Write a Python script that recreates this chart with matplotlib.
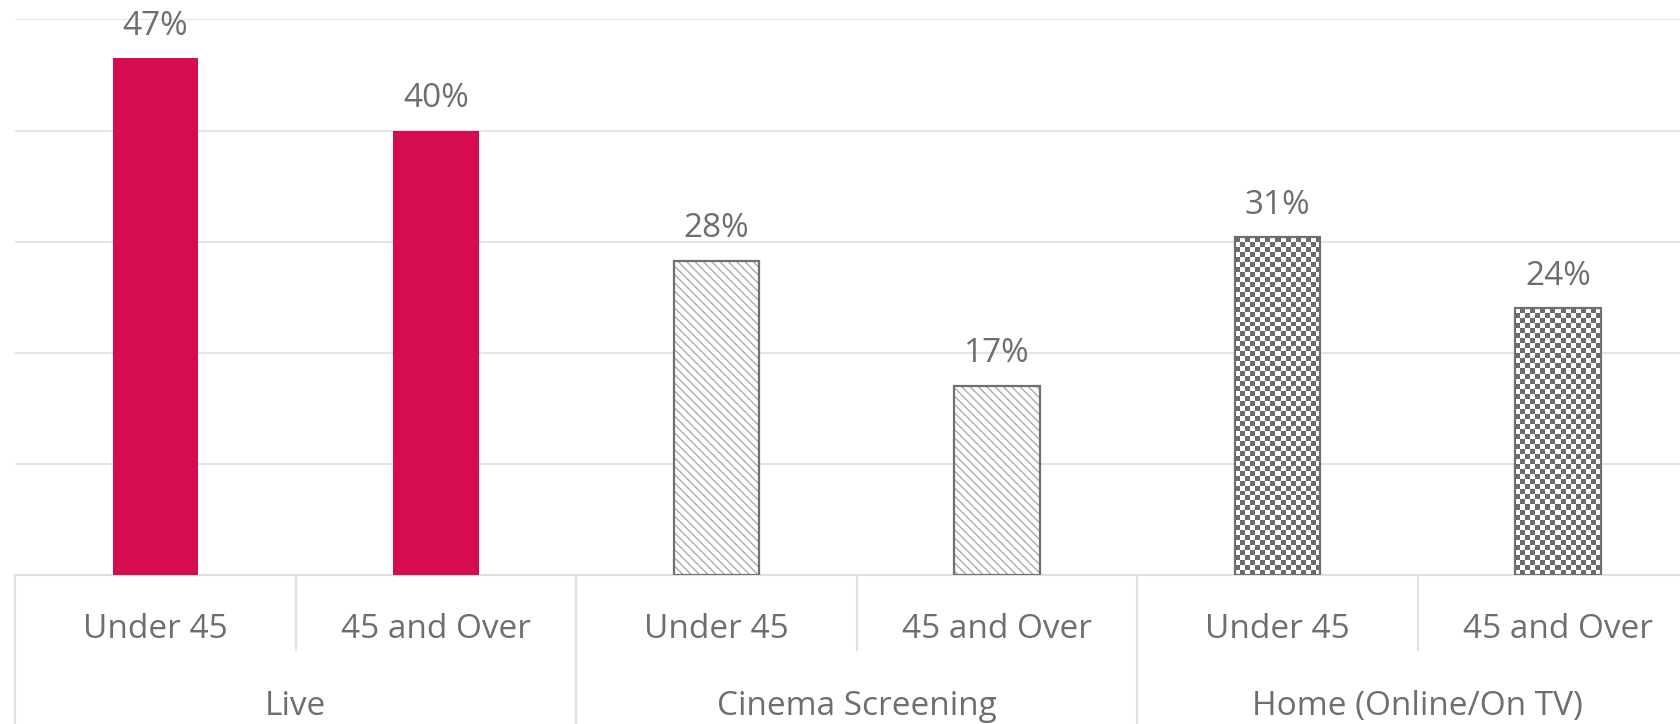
import numpy as np
import matplotlib
matplotlib.use('Agg')
import matplotlib.pyplot as plt
from matplotlib.colors import ListedColormap

plt.rcParams['font.family'] = ['Open Sans', 'DejaVu Sans']
plt.rcParams['hatch.linewidth'] = 1.0

groups = ['Live', 'Cinema Screening', 'Home (Online/On TV)']
ages = ['Under 45', '45 and Over']
values = [46.5, 40, 28.3, 17, 30.4, 24]
value_labels = ['47%', '40%', '28%', '17%', '31%', '24%']
styles = ['solid', 'solid', 'hatch', 'hatch', 'checker', 'checker']

pink = '#D60C51'
edge = '#707070'
grid_col = '#e0e0e0'
text_col = '#6e6e6e'

fig = plt.figure(figsize=(16.8, 7.24), dpi=100)
# axes runs a little past the right edge, like the source image
ax = fig.add_axes([15.15 / 1680, 149 / 724, 1683 / 1680, 555.6 / 724])

x = np.arange(len(values))
w = 0.305

for xi, v, st in zip(x, values, styles):
    if st == 'solid':
        ax.bar(xi, v, w, color=pink, zorder=3)
    elif st == 'hatch':
        ax.bar(xi, v, w, facecolor='white', edgecolor='#ababab', hatch='\\\\\\\\', linewidth=0, zorder=3)
        ax.bar(xi, v, w, fill=False, edgecolor=edge, linewidth=1.6, zorder=4)
    else:
        ax.bar(xi, v, w, facecolor='white', linewidth=0, zorder=3)
        ax.bar(xi, v, w, fill=False, edgecolor=edge, linewidth=1.6, zorder=5)

ax.set_xlim(-0.5, 5.5)
ax.set_ylim(0, 50)

# checkerboard fill, 5 px cells
px_x = ax.transData.transform((1, 0))[0] - ax.transData.transform((0, 0))[0]
px_y = ax.transData.transform((0, 1))[1] - ax.transData.transform((0, 0))[1]
checker_cmap = ListedColormap(['white', '#6b6b6b'])
for xi, v, st in zip(x, values, styles):
    if st != 'checker':
        continue
    nx = int(round(w * px_x / 5))
    ny = int(round(v * px_y / 5))
    board = (np.add.outer(np.arange(ny), np.arange(nx)) % 2)
    ax.imshow(board, cmap=checker_cmap, extent=(xi - w / 2, xi + w / 2, 0, v),
              aspect='auto', interpolation='nearest', zorder=4, origin='lower')
ax.set_xlim(-0.5, 5.5)
ax.set_ylim(0, 50)

for xi, v, lab in zip(x, values, value_labels):
    ax.annotate(lab, (xi, v), xytext=(0, 17), textcoords='offset points',
                ha='center', va='baseline', fontsize=24, color=text_col)

ax.set_yticks([0, 10, 20, 30, 40, 50])
ax.yaxis.grid(True, color=grid_col, linewidth=1.2, zorder=0)
ax.set_axisbelow(True)
ax.tick_params(left=False, bottom=False, labelleft=False, labelbottom=False)
for s in ['left', 'right', 'top']:
    ax.spines[s].set_visible(False)
ax.spines['bottom'].set_color(grid_col)
ax.spines['bottom'].set_linewidth(1.5)

tr = ax.get_xaxis_transform()
for i, xi in enumerate(x):
    ax.annotate(ages[i % 2], (xi, 0), xycoords=tr, xytext=(0, -39.5), textcoords='offset points',
                ha='center', va='center', fontsize=24, color=text_col)
for g, name in enumerate(groups):
    ax.annotate(name, (2 * g + 0.5, 0), xycoords=tr, xytext=(0, -94.5), textcoords='offset points',
                ha='center', va='center', fontsize=24, color=text_col)

# category separators under the axis
for g in range(len(groups)):
    ax.plot([2 * g + 0.5] * 2, [0, -0.135], transform=tr, color=grid_col, lw=1.5, clip_on=False)
for g in range(len(groups) + 1):
    ax.plot([2 * g - 0.5] * 2, [0, -0.3], transform=tr, color=grid_col, lw=1.5, clip_on=False)

fig.savefig('out.png', dpi=100)
